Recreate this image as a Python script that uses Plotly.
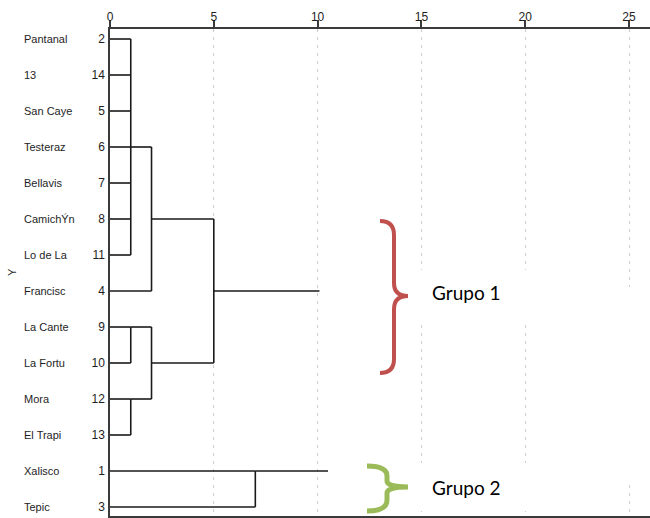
import math
import plotly.graph_objects as go

# ---------------- data ----------------
leaf_names = ["Pantanal", "13", "San Caye", "Testeraz", "Bellavis", "CamichÝn", "Lo de La",
              "Francisc", "La Cante", "La Fortu", "Mora", "El Trapi", "Xalisco", "Tepic"]
case_numbers = [2, 14, 5, 6, 7, 8, 11, 4, 9, 10, 12, 13, 1, 3]

# agglomeration steps (leaf rows 0..13, new nodes numbered from 14 upward)
merge_children = [[0, 1, 2, 3, 4, 5, 6], [14, 7], [8, 9], [10, 11], [16, 17], [15, 18], [12, 13], [19, 20]]
merge_distance = [1, 2, 1, 1, 2, 5, 7, 25]  # rescaled distance

axis_ticks = [0, 5, 10, 15, 20, 25]
group_labels = ["Grupo 1", "Grupo 2"]

# ---------------- layout geometry ----------------
W, H = 650, 518
ML, MR, MT, MB = 110, 0, 29, 2
PX_PER_UNIT = (629 - 110) / 25.0
ROW0, ROW_STEP = 39.0, 36.0
PW, PH = W - ML - MR, H - MT - MB

x_max = PW / PX_PER_UNIT
y_top = (MT - ROW0) / ROW_STEP
y_bot = (H - MB - ROW0) / ROW_STEP


def px2x(px):
    return (px - ML) / PX_PER_UNIT


def px2y(py):
    return (py - ROW0) / ROW_STEP


def px2paperx(px):
    return (px - ML) / PW


def px2papery(py):
    return (H - MB - py) / PH


# ---------------- dendrogram segments ----------------
pos = list(range(len(leaf_names)))
hgt = [0.0] * len(leaf_names)
xs, ys = [], []
for children, d in zip(merge_children, merge_distance):
    cy = [pos[c] for c in children]
    for c in children:
        xs += [hgt[c], d, None]
        ys += [pos[c], pos[c], None]
    xs += [d, d, None]
    ys += [min(cy), max(cy), None]
    pos.append(math.floor((min(cy) + max(cy)) / 2))
    hgt.append(d)

fig = go.Figure()
fig.add_trace(go.Scatter(x=xs, y=ys, mode="lines",
                         line=dict(color="#1a1a1a", width=1.6),
                         hoverinfo="skip", showlegend=False))

axis_color = "#3a3a3a"
FONT = "Liberation Sans, Arial, sans-serif"
TXT = "#1e1e1e"
txt_font = dict(family=FONT, size=11, color=TXT)

fig.update_layout(
    width=W, height=H,
    margin=dict(l=ML, r=MR, t=MT, b=MB, pad=0),
    paper_bgcolor="white", plot_bgcolor="white",
    showlegend=False, hovermode=False,
    font=txt_font,
    xaxis=dict(range=[0, x_max], side="top", tickvals=axis_ticks,
               ticktext=[str(t) for t in axis_ticks],
               ticks="outside", ticklen=7, tickwidth=1.5, tickcolor=axis_color,
               showline=True, linecolor=axis_color, linewidth=1.5, mirror=True,
               showgrid=True, gridcolor="#cccccc", gridwidth=1, griddash="3px,5px",
               zeroline=False, tickfont=dict(family=FONT, size=12, color=TXT),
               ticklabelstandoff=-6, fixedrange=True),
    yaxis=dict(range=[y_bot, y_top], tickvals=list(range(len(case_numbers))),
               ticktext=[str(n) for n in case_numbers], ticks="",
               showline=True, linecolor=axis_color, linewidth=1.5, mirror=False,
               showgrid=False, zeroline=False,
               tickfont=dict(family=FONT, size=12, color=TXT),
               ticklabelstandoff=1, fixedrange=True),
)

# leaf name labels
for i, nm in enumerate(leaf_names):
    fig.add_annotation(x=px2paperx(22), y=px2papery(ROW0 + ROW_STEP * i), xref="paper", yref="paper",
                       text=nm, showarrow=False, xanchor="left", yanchor="middle", font=txt_font)

# vertical axis title
fig.add_annotation(x=px2paperx(12), y=px2papery(272), xref="paper", yref="paper", text="Y",
                   showarrow=False, textangle=-90, xanchor="center", yanchor="middle", font=txt_font)

# white patches pasted over the picture
for (x0, y0, x1, y1) in [(319.5, 270, 622, 320), (328, 463, 621, 511), (616, 287, 645, 485)]:
    fig.add_shape(type="rect", xref="x", yref="y", x0=px2x(x0), x1=px2x(x1),
                  y0=px2y(y0), y1=px2y(y1), fillcolor="white", line=dict(width=0), layer="above")


def path(cmds):
    out = []
    for c in cmds:
        op, pts = c[0], c[1:]
        coords = " ".join(f"{px2x(pts[k]):.4f},{px2y(pts[k + 1]):.4f}" for k in range(0, len(pts), 2))
        out.append(f"{op} {coords}")
    return " ".join(out)


red_brace = path([("M", 380, 221), ("Q", 394, 221, 394, 235), ("L", 394, 283),
                  ("Q", 394, 296, 408, 296), ("Q", 394, 296, 394, 309), ("L", 394, 359),
                  ("Q", 394, 373, 380, 373)])
green_brace = path([("M", 367, 466), ("Q", 387, 466, 387, 476), ("L", 387, 481),
                    ("Q", 387, 487, 408, 487), ("Q", 387, 487, 387, 493), ("L", 387, 500),
                    ("Q", 387, 511, 367, 511)])
fig.add_shape(type="path", xref="x", yref="y", path=red_brace,
              line=dict(color="#C0504D", width=4), layer="above")
fig.add_shape(type="path", xref="x", yref="y", path=green_brace,
              line=dict(color="#9BBB59", width=5), layer="above")

for lbl, py in zip(group_labels, [292, 487]):
    fig.add_annotation(x=px2paperx(430), y=px2papery(py), xref="paper", yref="paper", text=lbl,
                       showarrow=False, xanchor="left", yanchor="middle",
                       font=dict(family="Lato, Carlito, sans-serif", size=19, color="black"))

fig.write_html("out.html")
